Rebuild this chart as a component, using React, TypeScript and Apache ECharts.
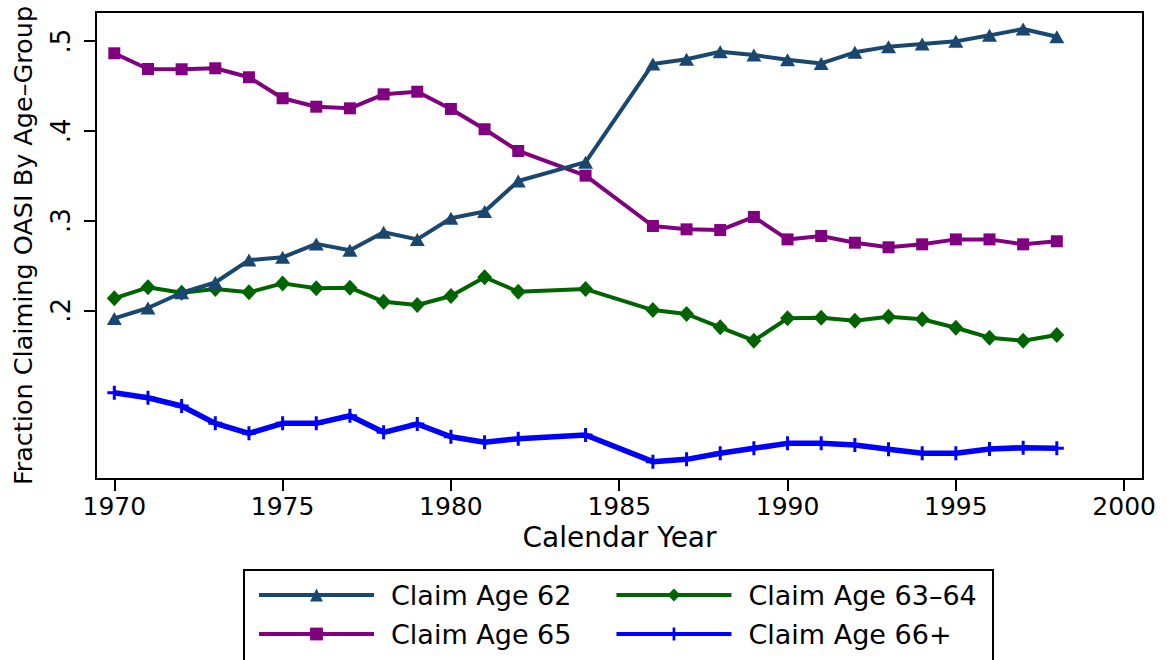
import React, { useEffect, useRef } from "react";
import * as echarts from "echarts";

const years = [1970, 1971, 1972, 1973, 1974, 1975, 1976, 1977, 1978, 1979, 1980, 1981, 1982, 1984, 1986, 1987, 1988, 1989, 1990, 1991, 1992, 1993, 1994, 1995, 1996, 1997, 1998];

const age62 = [0.191, 0.2026, 0.2196, 0.231, 0.256, 0.259, 0.274, 0.267, 0.287, 0.279, 0.3025, 0.31, 0.344, 0.365, 0.4744, 0.4796, 0.488, 0.4844, 0.479, 0.475, 0.4874, 0.4937, 0.4967, 0.4996, 0.5063, 0.5134, 0.5048];
const age6364 = [0.2134, 0.2256, 0.2196, 0.2237, 0.22, 0.23, 0.2245, 0.2252, 0.2096, 0.2059, 0.216, 0.2368, 0.2207, 0.2237, 0.2003, 0.1959, 0.181, 0.1662, 0.1911, 0.1918, 0.1884, 0.1929, 0.19, 0.1806, 0.1695, 0.1662, 0.1725];
const age65 = [0.4863, 0.4688, 0.4685, 0.4696, 0.4596, 0.4362, 0.4268, 0.425, 0.4406, 0.4435, 0.4243, 0.4017, 0.3775, 0.35, 0.2939, 0.2902, 0.2894, 0.304, 0.279, 0.2828, 0.2753, 0.2702, 0.2735, 0.279, 0.279, 0.2735, 0.2769];
const age66 = [0.1082, 0.1026, 0.0934, 0.0741, 0.063, 0.0741, 0.0741, 0.0826, 0.0641, 0.0734, 0.0592, 0.053, 0.057, 0.0611, 0.0314, 0.034, 0.0407, 0.0463, 0.0518, 0.0518, 0.05, 0.0452, 0.0407, 0.0407, 0.0455, 0.047, 0.0463];

const xTicks = [1970, 1975, 1980, 1985, 1990, 1995, 2000];
const yTicks = [0.2, 0.3, 0.4, 0.5];

const names = ["Claim Age 62", "Claim Age 63–64", "Claim Age 65", "Claim Age 66+"];

const FONT = "DejaVu Sans";
const PLUS = "path://M5.5,0 H8.5 V14 H5.5 Z M0,5.5 H14 V8.5 H0 Z";

const pairs = (vals: number[]) => years.map((y, i) => [y, vals[i]]);

export default function App() {
  const ref = useRef<HTMLDivElement>(null);
  useEffect(() => {
    if (!ref.current) return;
    const chart = echarts.init(ref.current, null, { renderer: "svg" });
    const legendText = {
      fontFamily: FONT,
      fontSize: 27,
      color: "#000",
      padding: [0, 0, 0, 12],
      lineHeight: 30,
    };
    const legendBase = {
      left: 257,
      padding: 0,
      itemWidth: 115,
      itemHeight: 16,
      itemGap: 43,
      textStyle: legendText,
      lineStyle: { width: 4 },
    };
    chart.setOption({
      animation: false,
      backgroundColor: "#fff",
      grid: {
        left: 96,
        right: 24,
        top: 12,
        bottom: 181,
        show: true,
        borderColor: "#000",
        borderWidth: 2,
        backgroundColor: "transparent",
        containLabel: false,
        outerBoundsMode: "none",
      },
      xAxis: {
        type: "value",
        min: 1969.456,
        max: 2000.56,
        name: "Calendar Year",
        nameLocation: "middle",
        nameGap: 43,
        nameTextStyle: { fontFamily: FONT, fontSize: 28, color: "#000" },
        splitLine: { show: false },
        axisLine: { show: true, lineStyle: { color: "#000", width: 2 } },
        axisTick: { show: true, length: 12, lineStyle: { color: "#000", width: 2 }, customValues: xTicks },
        axisLabel: {
          customValues: xTicks,
          fontFamily: FONT,
          fontSize: 25,
          color: "#000",
          margin: 15,
          formatter: (v: number) => String(v),
        },
      },
      yAxis: {
        type: "value",
        min: 0.0121,
        max: 0.5323,
        name: "Fraction Claiming OASI By Age–Group",
        nameLocation: "middle",
        nameGap: 60,
        nameTextStyle: { fontFamily: FONT, fontSize: 25.5, color: "#000" },
        splitLine: { show: false },
        axisLine: { show: true, lineStyle: { color: "#000", width: 2 } },
        axisTick: { show: true, length: 12, lineStyle: { color: "#000", width: 2 }, customValues: yTicks },
        axisLabel: {
          customValues: yTicks,
          rotate: 90,
          fontFamily: FONT,
          fontSize: 26,
          color: "#000",
          margin: 22,
          formatter: (v: number) => "." + Math.round(v * 10),
        },
      },
      legend: [
        { ...legendBase, data: [names[0], names[1]], top: 580 },
        { ...legendBase, data: [names[2], names[3]], top: 619 },
      ],
      graphic: [
        {
          type: "rect",
          shape: { x: 244, y: 570, width: 749, height: 120 },
          style: { fill: "none", stroke: "#000", lineWidth: 2 },
          silent: true,
        },
      ],
      series: [
        {
          name: names[0],
          type: "line",
          data: pairs(age62),
          symbol: "triangle",
          symbolSize: [15, 13],
          color: "#1a476f",
          lineStyle: { width: 4, color: "#1a476f" },
          itemStyle: { color: "#1a476f" },
          z: 4,
        },
        {
          name: names[1],
          type: "line",
          data: pairs(age6364),
          symbol: "diamond",
          symbolSize: [15, 16],
          color: "#006400",
          lineStyle: { width: 4, color: "#006400" },
          itemStyle: { color: "#006400" },
          z: 3,
        },
        {
          name: names[2],
          type: "line",
          data: pairs(age65),
          symbol: "rect",
          symbolSize: [12, 12],
          color: "#800080",
          lineStyle: { width: 4, color: "#800080" },
          itemStyle: { color: "#800080" },
          z: 3,
        },
        {
          name: names[3],
          type: "line",
          data: pairs(age66),
          symbol: PLUS,
          symbolSize: [14, 14],
          color: "#0000ff",
          lineStyle: { width: 5.5, color: "#0000ff" },
          itemStyle: { color: "#0000ff" },
          z: 2,
        },
      ],
    });
    return () => chart.dispose();
  }, []);
  return (
    <div
      ref={ref}
      style={{ position: "fixed", left: 0, top: 0, width: 1167, height: 660, background: "#fff" }}
    />
  );
}
